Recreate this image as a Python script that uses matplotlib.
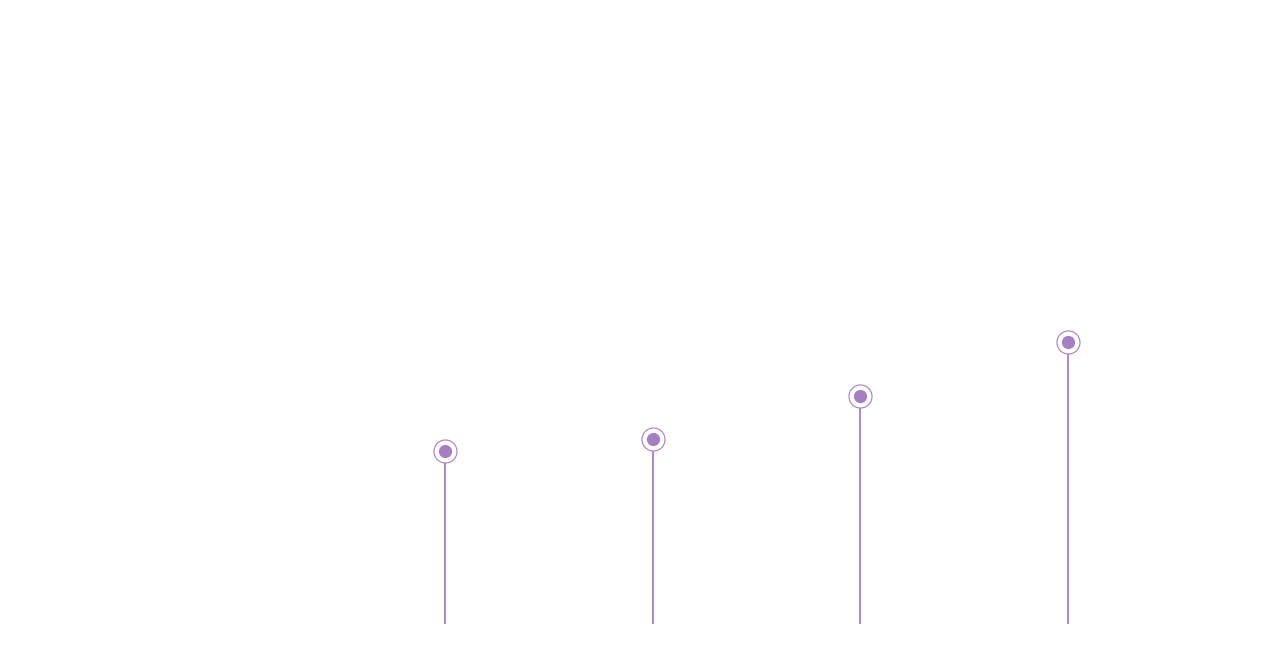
import numpy as np
import matplotlib
matplotlib.use("Agg")
import matplotlib.pyplot as plt

# values (arbitrary units, baseline = 0)
categories = ["A", "B", "C", "D"]
values = [173, 185, 228, 282]

color = "#a67fc0"

fig = plt.figure(figsize=(12.81, 6.5), dpi=100)
ax = fig.add_axes([0, 0, 1, 1])

x = np.arange(len(categories))
ax.vlines(x, 0, values, color=color, linewidth=1.3)
# outer ring and inner dot
ax.scatter(x, values, s=275, facecolor="white", edgecolor=color, linewidth=0.8, zorder=3)
ax.scatter(x, values, s=72, color=color, zorder=4)

step = 207.7
ax.set_xlim(-445 / step, (1281 - 445) / step)
ax.set_ylim(-26, 624)
ax.axis("off")

fig.savefig("out.png", dpi=100)
